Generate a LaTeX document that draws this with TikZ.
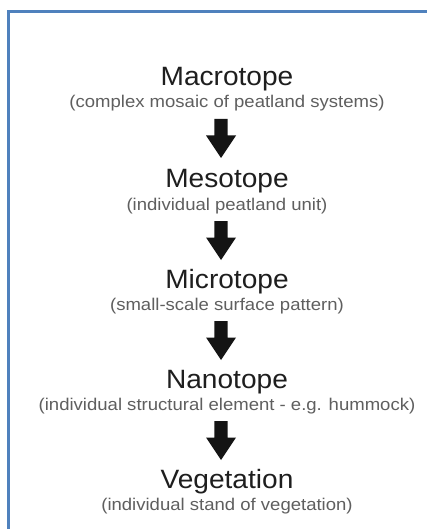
\documentclass[tikz,border=0pt]{standalone}
\usepackage{fontspec}
\setmainfont{Liberation Sans}
\newfontfamily\titlefont[FakeStretch=1.06]{Liberation Sans}
\newfontfamily\subfont[FakeStretch=1.09]{Liberation Sans}
\definecolor{frameblue}{RGB}{79,129,189}
\definecolor{titlecol}{RGB}{30,30,30}
\definecolor{subcol}{RGB}{95,95,95}
\tikzset{
  leveltitle/.style={anchor=base, inner sep=0pt, text=titlecol, font=\titlefont\fontsize{26.5}{30}\selectfont},
  levelsub/.style={anchor=base, inner sep=0pt, text=subcol, font=\subfont\fontsize{17}{20}\selectfont},
  blockarrow/.pic={\fill[black!92] (-6.7,0) -- (-6.7,16.5) -- (-15,16.5) -- (0,39) -- (15,16.5) -- (6.7,16.5) -- (6.7,0) -- cycle;}
}
\begin{document}
\begin{tikzpicture}[x=1pt,y=-1pt]
\useasboundingbox (0,0) rectangle (427,529);
\fill[white] (0,0) rectangle (427,529);
\draw[frameblue, line width=2.2pt] (8.5,540) -- (8.5,11.5) -- (440,11.5);
\node[leveltitle] (t1) at (227,86) {Macrotope};
\node[levelsub] (s1) at (227,108) {(complex mosaic of peatland systems)};
\pic at (221,119) {blockarrow};
\node[leveltitle] (t2) at (227,188) {Mesotope};
\node[levelsub] (s2) at (227,210) {(individual peatland unit)};
\pic at (221,221) {blockarrow};
\node[leveltitle] (t3) at (227,288) {Microtope};
\node[levelsub] (s3) at (227,310) {(small-scale surface pattern)};
\pic at (221,321) {blockarrow};
\node[leveltitle] (t4) at (227,388) {Nanotope};
\node[levelsub] (s4) at (227,410) {(individual structural element - e.g. hummock)};
\pic at (221,421) {blockarrow};
\node[leveltitle] (t5) at (227,488) {Vegetation};
\node[levelsub] (s5) at (227,510) {(individual stand of vegetation)};
\end{tikzpicture}
\end{document}
